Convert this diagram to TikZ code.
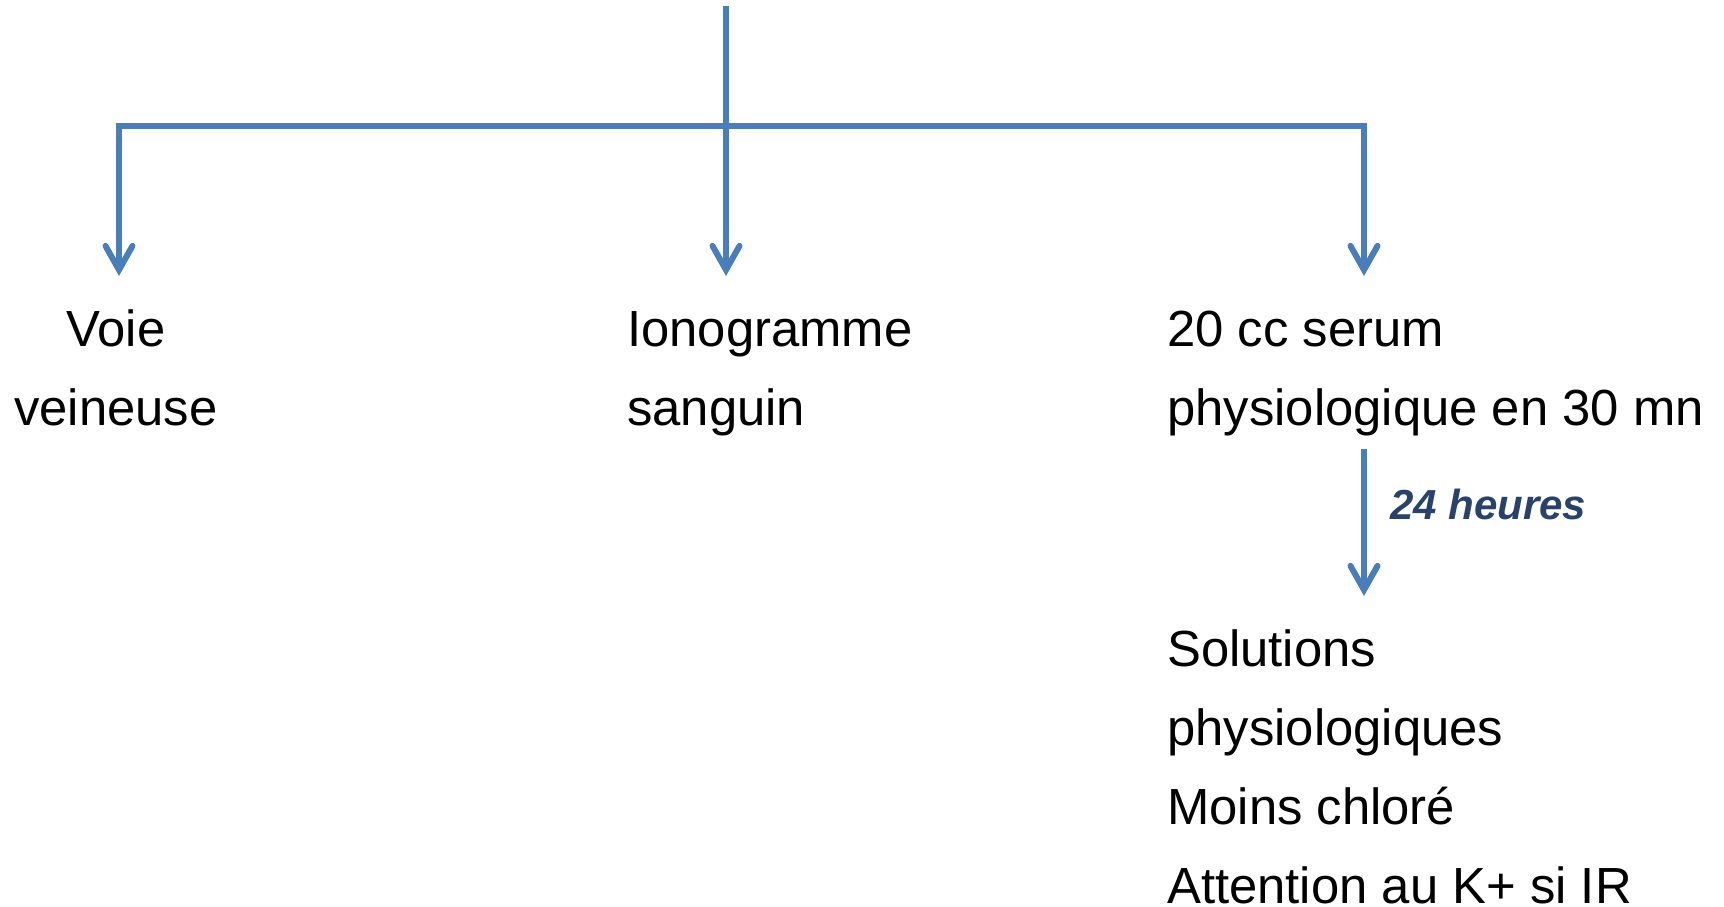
\documentclass[tikz,border=0pt]{standalone}
\usepackage{fontspec}
\setmainfont{Liberation Sans}
\usetikzlibrary{arrows.meta}
\definecolor{lineblue}{HTML}{4A7EBB}
\definecolor{labelblue}{HTML}{28426A}
\tikzset{
  conn/.style={draw=lineblue, line width=6pt, line join=miter},
  arr/.style={conn, -{Straight Barb[length=24pt,width=27pt,line join=miter,line cap=round]}},
  txt/.style={inner sep=0pt, font=\fontsize{50.8}{79}\selectfont, text=black},
  lbl/.style={inner sep=0pt, font=\fontsize{42}{50}\selectfont\bfseries\itshape, text=labelblue}
}
\begin{document}
\begin{tikzpicture}[x=1pt,y=-1pt]
\useasboundingbox (0,0) rectangle (1724,907);
% coordinates
\coordinate (top) at (726,6);
\coordinate (hub) at (726,126);
\coordinate (t1) at (119,276);
\coordinate (t2) at (726,276);
\coordinate (t3) at (1364,276);
\coordinate (s4) at (1364,449);
\coordinate (t4) at (1364,596);
% texts (base anchor = baseline of the last line)
\node[txt, align=center, anchor=base] (n1) at (116,425) {Voie\\veineuse};
\node[txt, align=left, anchor=base west] (n2) at (627,425) {Ionogramme\\sanguin};
\node[txt, align=left, anchor=base west] (n3) at (1167,425) {20 cc serum\\physiologique en 30 mn};
\node[txt, align=left, anchor=base west] (n4) at (1167,903) {Solutions\\physiologiques\\Moins chloré\\Attention au K+ si IR};
% connectors
\draw[arr] (top) -- (t2);
\draw[arr] (hub) -| (t1);
\draw[arr] (hub) -| (t3);
\draw[arr] (s4) -- (t4);
\node[lbl, anchor=base west] (l4) at (1390,519) {24 heures};
\end{tikzpicture}
\end{document}
